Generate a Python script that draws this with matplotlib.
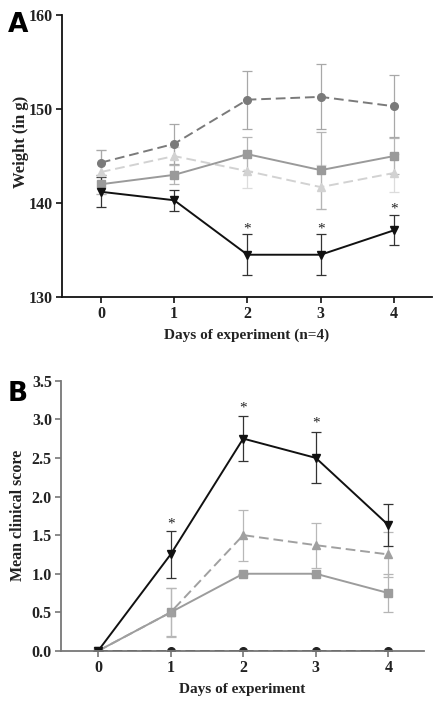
import numpy as np
import matplotlib
matplotlib.use("Agg")
import matplotlib.pyplot as plt

plt.rcParams['font.family'] = ['Liberation Serif', 'DejaVu Serif']

days = [0, 1, 2, 3, 4]

# panel A - weight (g)
wA_circle = [144.3, 146.3, 151.0, 151.3, 150.3]
wA_circle_err = [1.3, 2.1, 3.1, 3.45, 3.3]
wA_square = [142.0, 143.0, 145.2, 143.5, 145.0]
wA_square_err = [1.0, 1.0, 1.8, 4.1, 1.9]
wA_tri = [143.3, 145.0, 143.4, 141.7, 143.2]
wA_tri_err = [2.3, 1.0, 1.8, 2.3, 2.0]
wA_inv = [141.2, 140.3, 134.5, 134.5, 137.1]
wA_inv_err = [1.6, 1.1, 2.2, 2.2, 1.6]
starA_days = [2, 3, 4]
starA_y = [137.2, 137.2, 139.4]

# panel B - clinical score
sB_inv = [0, 1.25, 2.75, 2.5, 1.63]
sB_inv_err = [0, 0.3, 0.29, 0.33, 0.27]
sB_tri = [0, 0.5, 1.5, 1.37, 1.25]
sB_tri_err = [0, 0.32, 0.33, 0.29, 0.29]
sB_square = [0, 0.5, 1.0, 1.0, 0.75]
sB_square_err = [0, 0.31, 0.0, 0.0, 0.25]
sB_circle = [0, 0, 0, 0, 0]
starB_days = [1, 2, 3]
starB_y = [1.65, 3.15, 2.95]

fig = plt.figure(figsize=(4.4, 7.03), dpi=100)
axA = fig.add_axes([0.141, 0.5775, 0.841, 0.401])
axB = fig.add_axes([0.1386, 0.074, 0.825, 0.3845])


def series(ax, y, err, color, ecolor, marker, ls, ms=5.5):
    ax.errorbar(days, y, yerr=err, color=color, ecolor=ecolor, marker=marker,
                ls=ls, lw=1.4, ms=ms, capsize=3.5, elinewidth=0.9,
                capthick=0.9, dashes=(5, 2.5) if ls == '--' else (None, None))


def style(ax, spine_color):
    for s in ['top', 'right']:
        ax.spines[s].set_visible(False)
    for s in ['left', 'bottom']:
        ax.spines[s].set_color(spine_color)
        ax.spines[s].set_linewidth(1.3)
    ax.tick_params(direction='out', length=4, width=1.2, color=spine_color,
                   labelsize=11.5, pad=2.5)
    for lbl in ax.get_xticklabels() + ax.get_yticklabels():
        lbl.set_fontweight('bold')
        lbl.set_color('#222222')


# --- panel A
series(axA, wA_tri, wA_tri_err, '#d2d2d2', '#dcdcdc', '^', '--')
series(axA, wA_circle, wA_circle_err, '#7a7a7a', '#a8a8a8', 'o', '--')
series(axA, wA_square, wA_square_err, '#9a9a9a', '#b5b5b5', 's', '-')
series(axA, wA_inv, wA_inv_err, '#111111', '#333333', 'v', '-')
for d, y in zip(starA_days, starA_y):
    axA.text(d, y, '*', ha='center', va='center', fontsize=11, color='#222222')
axA.set_xlim(-0.53, 4.52)
axA.set_ylim(130, 160)
axA.set_xticks(days)
axA.set_yticks([130, 140, 150, 160])
style(axA, '#111111')
axA.set_xlabel('Days of experiment (n=4)', fontsize=11, fontweight='bold',
               labelpad=5, color='#222222')
axA.set_ylabel('Weight (in g)', fontsize=12, fontweight='bold',
               color='#222222')
axA.yaxis.set_label_coords(-0.09, 0.55)

# --- panel B
series(axB, sB_square, sB_square_err, '#9c9c9c', '#b5b5b5', 's', '-')
series(axB, sB_tri, sB_tri_err, '#a0a0a0', '#b8b8b8', '^', '--')
series(axB, sB_circle, None, '#222222', '#222222', 'o', '--')
series(axB, sB_inv, sB_inv_err, '#111111', '#333333', 'v', '-')
for d, y in zip(starB_days, starB_y):
    axB.text(d, y, '*', ha='center', va='center', fontsize=11, color='#222222')
axB.set_xlim(-0.51, 4.49)
axB.set_ylim(0, 3.5)
axB.set_xticks(days)
axB.set_yticks(np.arange(0, 3.51, 0.5))
axB.set_yticklabels(['%.1f' % v for v in np.arange(0, 3.51, 0.5)])
style(axB, '#777777')
axB.set_xlabel('Days of experiment', fontsize=11, fontweight='bold',
               labelpad=5, color='#222222')
axB.set_ylabel('Mean clinical score', fontsize=11.5, fontweight='bold',
               labelpad=4, color='#222222')

fig.text(0.018, 0.965, 'A', fontsize=19, fontweight='bold', family='DejaVu Sans',
         va='center', ha='left')
fig.text(0.018, 0.44, 'B', fontsize=19, fontweight='bold', family='DejaVu Sans',
         va='center', ha='left')

fig.savefig('out.png', dpi=100)
